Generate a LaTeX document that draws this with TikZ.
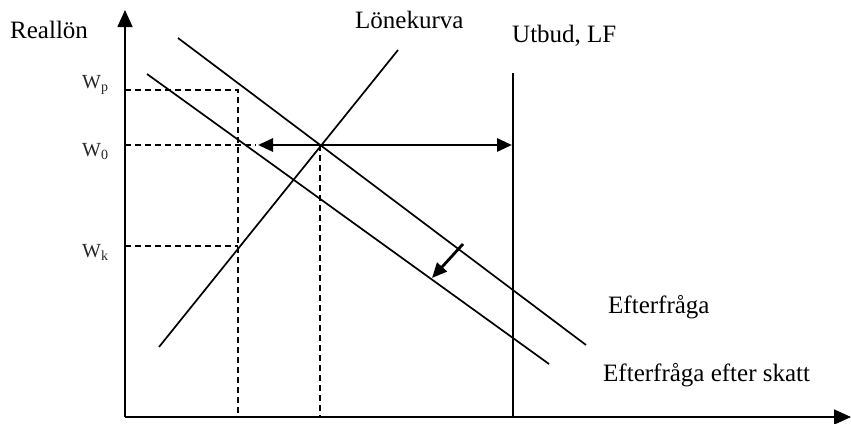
\documentclass[tikz,border=0pt]{standalone}
\usepackage{fontspec}
\setmainfont{Liberation Serif}
\usetikzlibrary{arrows.meta}
\begin{document}
\begin{tikzpicture}[x=1pt,y=-1pt,
  curve/.style={line width=1.7pt},
  guide/.style={line width=1.6pt, dash pattern=on 6pt off 4pt},
  axis/.style={line width=1.7pt,-{Triangle[length=17pt,width=15pt]}},
  shiftarrow/.style={line width=2.8pt,{Triangle[length=15pt,width=13pt]}-{Triangle[length=15pt,width=13pt]}},
  movearrow/.style={line width=2.8pt,-{Triangle[length=15pt,width=13pt]}},
  big/.style={font=\fontsize{25}{30}\selectfont, inner sep=0pt, anchor=base west},
  wl/.style={font=\fontsize{20}{24}\selectfont, inner sep=0pt, anchor=base west, text=black!85}]
\useasboundingbox (0,0) rectangle (851,423);
% axes
\coordinate (O) at (125,417);
\coordinate (ytip) at (125,10);
\coordinate (xtip) at (851,417);
\draw[axis] (O) -- (ytip);
\draw[axis] (O) -- (xtip);
% curves
\coordinate (lk1) at (159,347);
\coordinate (lk2) at (398,50);
\coordinate (ef1) at (178,38);
\coordinate (ef2) at (586,345);
\coordinate (es1) at (147,74);
\coordinate (es2) at (549,364);
\coordinate (ut1) at (513,73);
\coordinate (ut2) at (513,417);
\draw[curve] (lk1) -- (lk2);
\draw[curve] (ef1) -- (ef2);
\draw[curve] (es1) -- (es2);
\draw[curve] (ut1) -- (ut2);
% guides
\coordinate (wpA) at (125,90);
\coordinate (wpB) at (238,90);
\coordinate (wpC) at (238,417);
\coordinate (w0A) at (125,145);
\coordinate (w0B) at (256,145);
\coordinate (wkA) at (125,246);
\coordinate (wkB) at (238,246);
\coordinate (eqA) at (320,145);
\coordinate (eqB) at (320,417);
\draw[guide] (wpA) -- (wpB) -- (wpC);
\draw[guide] (w0A) -- (w0B);
\draw[guide] (wkA) -- (wkB);
\draw[guide] (eqA) -- (eqB);
% arrows
\coordinate (shL) at (258,145);
\coordinate (shR) at (512,145);
\draw[shiftarrow] (shL) -- (shR);
\coordinate (mvA) at (463,244);
\coordinate (mvB) at (432,278);
\draw[movearrow] (mvA) -- (mvB);
% labels
\node[big] (lreal) at (10,38) {Reallön};
\node[big] (llon) at (355,28) {Lönekurva};
\node[big] (lutb) at (512,42) {Utbud, LF};
\node[big] (lef) at (608,313) {Efterfråga};
\node[big] (les) at (603,381) {Efterfråga efter skatt};
\node[wl] (lwp) at (82,88) {W\textsubscript{p}};
\node[wl] (lw0) at (82,156) {W\textsubscript{0}};
\node[wl] (lwk) at (82,257) {W\textsubscript{k}};
\end{tikzpicture}
\end{document}
